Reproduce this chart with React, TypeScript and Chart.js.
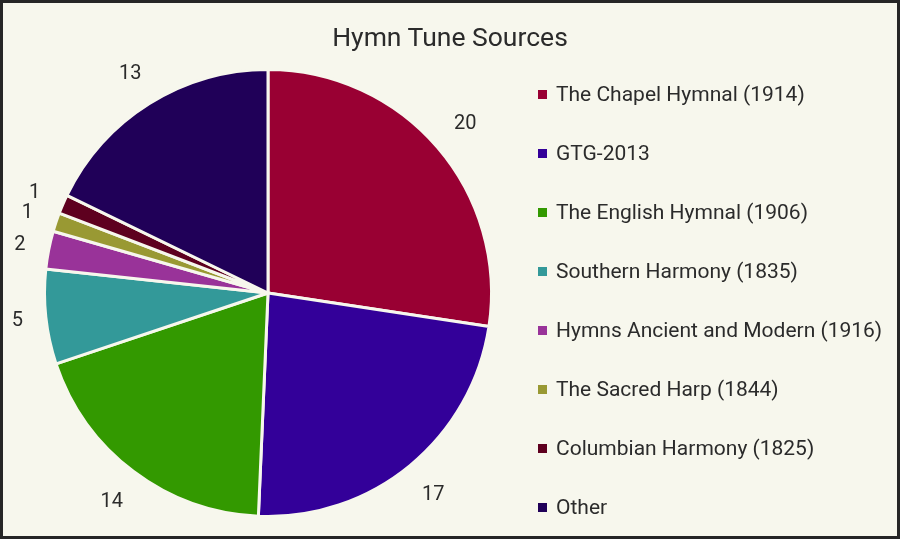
import { useEffect, useRef } from "react";
import { Chart, PieController, ArcElement, Plugin } from "chart.js";

Chart.register(PieController, ArcElement);

const TITLE = "Hymn Tune Sources";

const SOURCES = [
  "The Chapel Hymnal (1914)",
  "GTG-2013",
  "The English Hymnal (1906)",
  "Southern Harmony (1835)",
  "Hymns Ancient and Modern (1916)",
  "The Sacred Harp (1844)",
  "Columbian Harmony (1825)",
  "Other",
];

const TUNE_COUNTS = [20, 17, 14, 5, 2, 1, 1, 13];

const COLORS = [
  "#990033",
  "#330099",
  "#339900",
  "#339999",
  "#993399",
  "#999933",
  "#5e001f",
  "#200058",
];

const BG = "#f7f7ed";
const TEXT = "#2b2b2b";
const FONT = "Roboto, 'Open Sans', sans-serif";

// value labels just outside each slice, pushed out by the text's own size
const outsideLabels: Plugin<"pie"> = {
  id: "outsideLabels",
  afterDatasetsDraw(chart) {
    const { ctx } = chart;
    const meta = chart.getDatasetMeta(0);
    ctx.save();
    ctx.font = `20px ${FONT}`;
    ctx.fillStyle = TEXT;
    ctx.textAlign = "center";
    ctx.textBaseline = "middle";
    meta.data.forEach((el: any, i) => {
      const { x, y, startAngle, endAngle, outerRadius } = el.getProps(
        ["x", "y", "startAngle", "endAngle", "outerRadius"],
        true,
      );
      const a = (startAngle + endAngle) / 2;
      const text = String(TUNE_COUNTS[i]);
      const w = ctx.measureText(text).width;
      const h = 19;
      const ext = Math.abs(Math.cos(a)) * (w / 2) + Math.abs(Math.sin(a)) * (h / 2);
      const r = outerRadius + 22 + ext;
      ctx.fillText(text, x + Math.cos(a) * r, y + Math.sin(a) * r + 1);
    });
    ctx.restore();
  },
};

export default function App() {
  const canvasRef = useRef<HTMLCanvasElement>(null);

  useEffect(() => {
    if (!canvasRef.current) return;
    const chart = new Chart(canvasRef.current, {
      type: "pie",
      data: {
        labels: SOURCES,
        datasets: [
          {
            data: TUNE_COUNTS,
            backgroundColor: COLORS,
            borderColor: BG,
            borderWidth: 3,
          },
        ],
      },
      options: {
        responsive: false,
        animation: false,
        layout: { padding: { left: 40, right: 404, top: 65, bottom: 18 } },
        plugins: {
          legend: { display: false },
          tooltip: { enabled: false },
        },
      },
      plugins: [outsideLabels],
    });
    return () => chart.destroy();
  }, []);

  return (
    <div
      style={{
        position: "absolute",
        left: 0,
        top: 0,
        width: 900,
        height: 539,
        boxSizing: "border-box",
        border: "3px solid #262626",
        background: BG,
        fontFamily: FONT,
        color: TEXT,
      }}
    >
      <canvas ref={canvasRef} width={894} height={533} style={{ position: "absolute", left: 0, top: 0 }} />
      <div
        style={{
          position: "absolute",
          left: 0,
          width: 894,
          top: 34 - 15,
          lineHeight: "30px",
          fontSize: 26.5,
          textAlign: "center",
        }}
      >
        {TITLE}
      </div>
      {SOURCES.map((name, i) => (
        <div
          key={name}
          style={{
            position: "absolute",
            left: 535,
            top: 91 - 12 + i * 59.06,
            height: 24,
            lineHeight: "24px",
            fontSize: 21,
            whiteSpace: "nowrap",
            display: "flex",
            alignItems: "center",
          }}
        >
          <span
            style={{
              display: "inline-block",
              width: 9,
              height: 9,
              background: COLORS[i],
              marginRight: 9,
            }}
          />
          {name}
        </div>
      ))}
    </div>
  );
}
